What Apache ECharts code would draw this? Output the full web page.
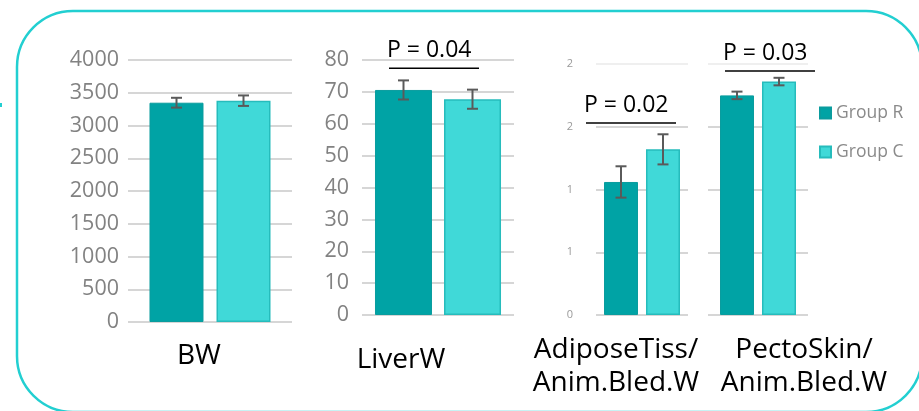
<!DOCTYPE html>
<html>
<head>
<meta charset="utf-8">
<script src="https://cdn.jsdelivr.net/npm/echarts@6/dist/echarts.min.js"></script>
<style>
html,body{margin:0;padding:0;background:#fff;}
#c{width:919px;height:411px;}
</style>
</head>
<body>
<div id="c"></div>
<script>
// ---- data ----
const categories = ['BW', 'LiverW', 'AdiposeTiss/\nAnim.Bled.W', 'PectoSkin/\nAnim.Bled.W'];
const groupR = [3348, 70.6, 1.06, 1.75];
const groupC = [3379, 67.7, 1.32, 1.86];
const errR = [75, 3.0, 0.125, 0.03];
const errC = [80, 3.0, 0.12, 0.03];
const yMax = [4000, 80, 2, 2];
const yInterval = [500, 10, 0.5, 0.5];
const pLabels = [null, 'P = 0.04', 'P = 0.02', 'P = 0.03'];
const pLevels = [null, 77.4, 1.53, 1.944];
const seriesNames = ['Group R', 'Group C'];

// ---- layout / style ----
const FONT = 'Open Sans';
const colR = '#00a3a5';
const colC = '#40d9d8';
const grids = [
  {left: 128, top: 60, width: 164, height: 262},
  {left: 362, top: 60, width: 152, height: 255},
  {left: 596, top: 64, width: 92, height: 251},
  {left: 708, top: 64, width: 100, height: 251}
];
const barW = [54, 57, 34, 34];
const barGapPx = [13, 12, 8, 8];
const yLabelMargin = [9, 13, 23, 23];
const yLabelSize = [21.5, 21.5, 11, 11];
const xLabelMargin = [18, 29, 19, 19];
const xLabelPad = [[0, 22, 0, 0], [0, 74, 0, 0], [0, 52, 0, 0], [0, 0, 0, 92]];
const pLine = [null, [-49, 41], [-56, 34], [-33, 57]];

const xAxes = [], yAxes = [], series = [];
categories.forEach((cat, i) => {
  xAxes.push({
    type: 'category', gridIndex: i, data: [cat],
    axisLine: {show: false}, axisTick: {show: false},
    axisLabel: {
      color: '#000', fontFamily: FONT, fontSize: 28, lineHeight: 33,
      margin: xLabelMargin[i], padding: xLabelPad[i]
    }
  });
  yAxes.push({
    type: 'value', gridIndex: i, min: 0, max: yMax[i], interval: yInterval[i],
    axisLine: {show: false}, axisTick: {show: false},
    axisLabel: {
      show: i !== 3,
      color: i < 2 ? '#828282' : '#9a9a9a',
      fontFamily: FONT, fontSize: yLabelSize[i], margin: yLabelMargin[i],
      formatter: i >= 2 ? (v => String(Math.round(v))) : (v => String(v))
    },
    splitLine: {
      lineStyle: {
        color: i >= 2 ? ['#d6d6d6', '#d6d6d6', '#d6d6d6', '#d6d6d6', '#efefef'] : '#d6d6d6',
        width: 2
      }
    }
  });
  const gapPct = (barGapPx[i] / barW[i] * 100).toFixed(1) + '%';
  series.push({
    name: seriesNames[0], type: 'bar', xAxisIndex: i, yAxisIndex: i,
    data: [groupR[i]], barWidth: barW[i], barGap: gapPct,
    itemStyle: {color: colR, borderColor: '#0a9c9e', borderWidth: 1}
  });
  series.push({
    name: seriesNames[1], type: 'bar', xAxisIndex: i, yAxisIndex: i,
    data: [groupC[i]], barWidth: barW[i], barGap: gapPct,
    itemStyle: {color: colC, borderColor: '#26bcbc', borderWidth: 1.5}
  });
  [[groupR, errR, -1], [groupC, errC, 1]].forEach(([vals, errs, side]) => {
    series.push({
      type: 'custom', xAxisIndex: i, yAxisIndex: i, z: 5, silent: true,
      data: [[0, vals[i], errs[i]]],
      encode: {x: 0, y: 1},
      renderItem: function (params, api) {
        const v = api.value(1), e = api.value(2);
        const c = api.coord([api.value(0), v]);
        const hi = api.coord([api.value(0), v + e]);
        const lo = api.coord([api.value(0), v - e]);
        const cx = c[0] + side * (barW[i] + barGapPx[i]) / 2;
        const st = {stroke: '#5a5a5a', lineWidth: 2};
        const hw = 5.5;
        return {
          type: 'group', children: [
            {type: 'line', shape: {x1: cx, y1: hi[1], x2: cx, y2: lo[1]}, style: st},
            {type: 'line', shape: {x1: cx - hw, y1: hi[1], x2: cx + hw, y2: hi[1]}, style: st},
            {type: 'line', shape: {x1: cx - hw, y1: lo[1], x2: cx + hw, y2: lo[1]}, style: st}
          ]
        };
      }
    });
  });
  if (pLabels[i]) {
    series.push({
      type: 'custom', xAxisIndex: i, yAxisIndex: i, z: 6, silent: true, clip: false,
      data: [[0, pLevels[i]]],
      encode: {x: 0, y: 1},
      renderItem: function (params, api) {
        const c = api.coord([api.value(0), api.value(1)]);
        const x1 = c[0] + pLine[i][0], x2 = c[0] + pLine[i][1];
        return {
          type: 'group', children: [
            {type: 'line', shape: {x1: x1, y1: c[1], x2: x2, y2: c[1]}, style: {stroke: '#000', lineWidth: 1.5}},
            {type: 'text', style: {
              text: pLabels[i], x: x1 - 2, y: c[1] - 6, fill: '#000',
              font: '23px "' + FONT + '"', textAlign: 'left', textVerticalAlign: 'bottom'
            }}
          ]
        };
      }
    });
  }
});

const chart = echarts.init(document.getElementById('c'), null, {renderer: 'canvas'});
chart.setOption({
  animation: false,
  backgroundColor: '#fff',
  grid: grids,
  xAxis: xAxes,
  yAxis: yAxes,
  legend: {
    data: seriesNames, orient: 'vertical', left: 814, top: 98,
    icon: 'rect', itemWidth: 11, itemHeight: 11, itemGap: 19,
    textStyle: {color: '#8a8a8a', fontFamily: FONT, fontSize: 17.5, lineHeight: 20},
    selectedMode: false
  },
  graphic: [
    {type: 'rect', shape: {x: 17, y: 11, width: 905, height: 401, r: 56},
     style: {fill: 'none', stroke: '#22cfd1', lineWidth: 2.5}, silent: true, z: 0},
    {type: 'rect', shape: {x: 0, y: 103, width: 2, height: 4},
     style: {fill: '#22cfd1'}, silent: true}
  ],
  series: series
});
</script>
</body>
</html>
